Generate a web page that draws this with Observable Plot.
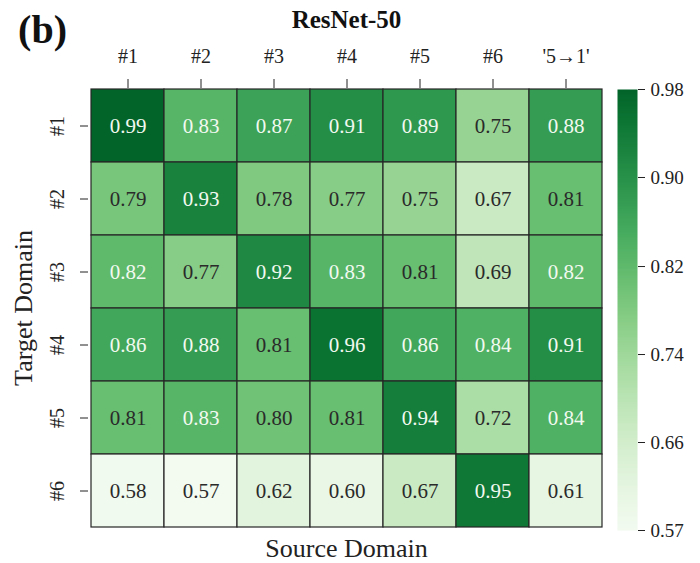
<!DOCTYPE html>
<html>
<head>
<meta charset="utf-8">
<script src="https://cdn.jsdelivr.net/npm/d3@7"></script>
<script src="https://cdn.jsdelivr.net/npm/@observablehq/plot@0.6"></script>
<style>
  html, body { margin: 0; padding: 0; background: #fff; }
  #chart { position: relative; width: 700px; height: 563px; }
  #chart svg { position: absolute; left: 0; top: 0; }
</style>
</head>
<body>
<div id="chart"></div>
<script>
const sources = ["#1", "#2", "#3", "#4", "#5", "#6", "'5\u21921'"];
const targets = ["#1", "#2", "#3", "#4", "#5", "#6"];
const row1 = [0.99, 0.83, 0.87, 0.91, 0.89, 0.75, 0.88];
const row2 = [0.79, 0.93, 0.78, 0.77, 0.75, 0.67, 0.81];
const row3 = [0.82, 0.77, 0.92, 0.83, 0.81, 0.69, 0.82];
const row4 = [0.86, 0.88, 0.81, 0.96, 0.86, 0.84, 0.91];
const row5 = [0.81, 0.83, 0.80, 0.81, 0.94, 0.72, 0.84];
const row6 = [0.58, 0.57, 0.62, 0.60, 0.67, 0.95, 0.61];
const rows = [row1, row2, row3, row4, row5, row6];
const colorDomain = [0.574, 0.985];
const cbTicks = [0.574, 0.656, 0.738, 0.820, 0.903, 0.985];
const cbLabels = ["0.57", "0.66", "0.74", "0.82", "0.90", "0.98"];
const title = "ResNet-50";
const panel = "(b)";
const xLabel = "Source Domain";
const yLabel = "Target Domain";

const cells = [];
rows.forEach((r, i) => r.forEach((v, j) => cells.push({target: targets[i], source: sources[j], value: v})));

const font = "Liberation Serif";
const colorOpts = {type: "linear", domain: colorDomain, clamp: true,
  interpolate: t => d3.interpolateGreens(0.03 + t * 0.87)};

const main = Plot.plot({
  width: 700, height: 563,
  marginTop: 87, marginLeft: 88, marginRight: 96, marginBottom: 35,
  style: {fontFamily: font, fontSize: "20px", color: "#222", background: "transparent"},
  x: {domain: sources, padding: 0, axis: null},
  y: {domain: targets, padding: 0, axis: null},
  color: colorOpts,
  marks: [
    Plot.cell(cells, {x: "source", y: "target", fill: "value", stroke: "#262626", strokeWidth: 1.2}),
    Plot.text(cells.filter(d => d.value >= 0.82), {x: "source", y: "target", text: d => d.value.toFixed(2), fill: "#f2f9f0", fontSize: 21}),
    Plot.text(cells.filter(d => d.value < 0.82), {x: "source", y: "target", text: d => d.value.toFixed(2), fill: "#2a2a2a", fontSize: 21}),
    Plot.axisX({anchor: "top", tickSize: 9, tickPadding: 16, fontSize: 20, label: null, stroke: "#222"}),
    Plot.axisY({anchor: "left", tickSize: 8, tickFormat: () => "", label: null, stroke: "#222"}),
    Plot.text(targets, {y: d => d, text: d => d, frameAnchor: "left", dx: -31, rotate: -90, textAnchor: "middle", lineAnchor: "middle", fontSize: 20, fill: "#222"}),
    Plot.text([title], {frameAnchor: "top", dy: -68, textAnchor: "middle", lineAnchor: "middle", fontSize: 25, fontWeight: "bold", fill: "#111"}),
    Plot.text([panel], {frameAnchor: "top-left", dx: -46, dy: -57, textAnchor: "middle", lineAnchor: "middle", fontSize: 40, fontWeight: "bold", fill: "#111"}),
    Plot.text([xLabel], {frameAnchor: "bottom", dy: 20, textAnchor: "middle", lineAnchor: "middle", fontSize: 26, fill: "#222"}),
    Plot.text([yLabel], {frameAnchor: "left", dx: -65, rotate: -90, textAnchor: "middle", lineAnchor: "middle", fontSize: 26, fill: "#222"})
  ]
});

const cbar = Plot.plot({
  width: 700, height: 563,
  marginTop: 89, marginBottom: 33, marginLeft: 617, marginRight: 63,
  style: {fontFamily: font, fontSize: "19px", color: "#222", background: "transparent"},
  x: {domain: [0, 1], axis: null},
  y: {domain: colorDomain, axis: null},
  color: colorOpts,
  marks: [
    Plot.raster({x1: 0, x2: 1, y1: colorDomain[0], y2: colorDomain[1], width: 1, height: 256, fill: (x, y) => y, imageRendering: "auto"}),
    Plot.axisY({anchor: "right", ticks: cbTicks, tickFormat: (d, i) => cbLabels[i], tickSize: 7, tickPadding: 6, fontSize: 19, label: null, stroke: "#222"})
  ]
});

const root = document.getElementById("chart");
root.appendChild(main);
root.appendChild(cbar);
</script>
</body>
</html>
